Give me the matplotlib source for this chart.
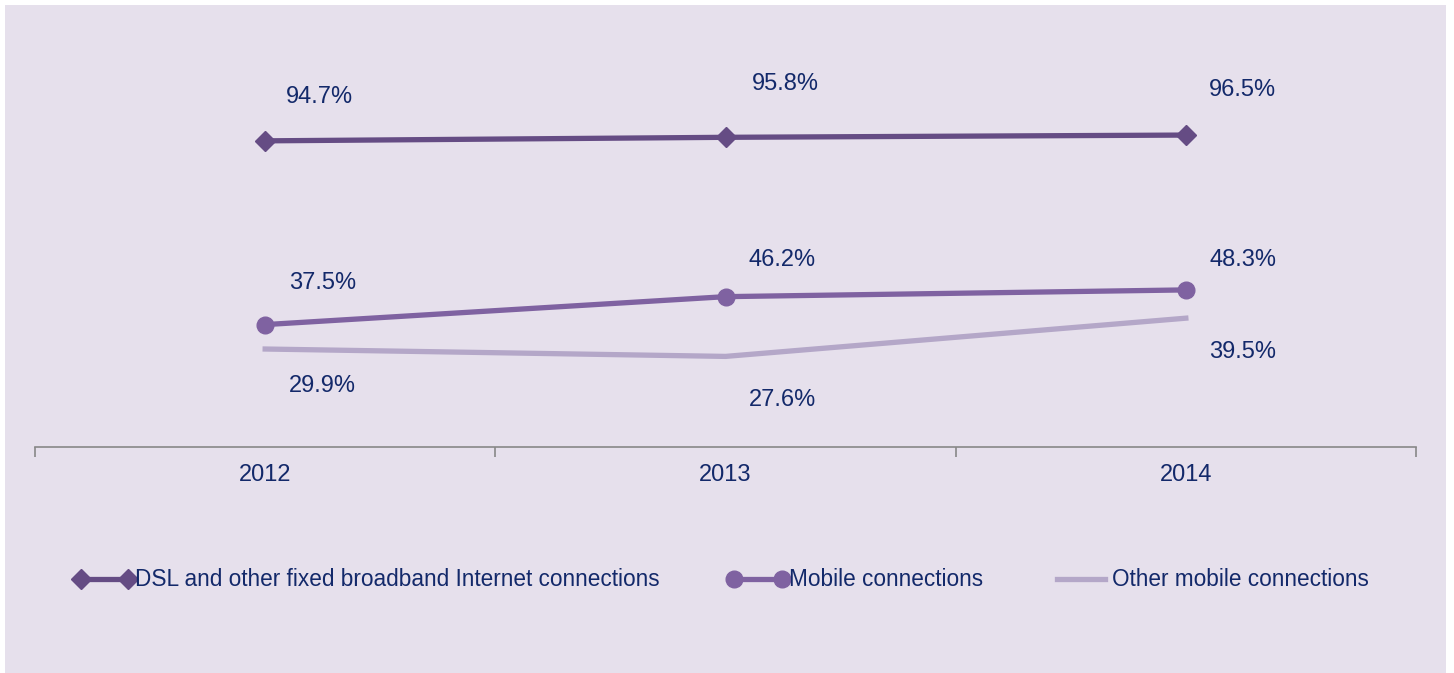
import matplotlib
matplotlib.use("Agg")
import matplotlib.pyplot as plt
from matplotlib.patches import Rectangle

plt.rcParams['font.family'] = ['Liberation Sans', 'DejaVu Sans']

years = ["2012", "2013", "2014"]
dsl = [94.7, 95.8, 96.5]
mobile = [37.5, 46.2, 48.3]
other = [29.9, 27.6, 39.5]

names = ["DSL and other fixed broadband Internet connections",
         "Mobile connections",
         "Other mobile connections"]

bg = "#E6E0EC"
text_col = "#13296A"
c_dsl = "#654C84"
c_mob = "#7F62A1"
c_oth = "#B4A7C8"

fig = plt.figure(figsize=(14.54, 6.73), dpi=100)
fig.patch.set_facecolor("white")
fig.patches.append(Rectangle((5 / 1454, -0.01), 1441 / 1454, 668 / 673 + 0.01,
                             transform=fig.transFigure, facecolor=bg,
                             edgecolor="none", zorder=-10))

ax = fig.add_axes([35 / 1454, 226 / 673, 1381 / 1454, 390 / 673])
ax.set_facecolor("none")
x = list(range(len(years)))

ax.plot(x, dsl, color=c_dsl, lw=3.8, marker="D", ms=10, label=names[0])
ax.plot(x, mobile, color=c_mob, lw=3.8, marker="o", ms=12, label=names[1])
ax.plot(x, other, color=c_oth, lw=3.8, label=names[2])

ax.set_xlim(-0.5, 2.5)
ax.set_ylim(-0.6, 120.8)

# value labels, offsets in pixels from the point
offs_dsl = [(54, 44), (60, 53), (57, 45)]
offs_mob = [(57, 42), (57, 37), (57, 30)]
offs_oth = [(57, -37), (57, -44), (57, -34)]
for series, offs in [(dsl, offs_dsl), (mobile, offs_mob), (other, offs_oth)]:
    for i, v in enumerate(series):
        ax.annotate(f"{v}%", (i, v), xytext=offs[i], textcoords="offset pixels",
                    ha="center", va="center", fontsize=17, color=text_col)

for s in ["top", "right", "left"]:
    ax.spines[s].set_visible(False)
ax.spines["bottom"].set_color("#888888")
ax.spines["bottom"].set_linewidth(1.2)
ax.spines["bottom"].set_position(("data", -0.6))
ax.set_yticks([])
ax.set_xticks([-0.5, 0.5, 1.5, 2.5])
ax.set_xticklabels([])
ax.set_xticks(x, minor=True)
ax.set_xticklabels(years, minor=True, fontsize=17, color=text_col)
ax.tick_params(axis="x", which="major", direction="out", length=7, color="#888888", width=1.2)
ax.tick_params(axis="x", which="minor", length=0, pad=12)

fig.legend(loc="center", bbox_to_anchor=(0.496, 1 - 580 / 673), ncol=3, frameon=False,
           numpoints=2, handlelength=2.7, handletextpad=0.0, columnspacing=3.0,
           fontsize=16.3, labelcolor=text_col)

fig.savefig("out.png", dpi=100, facecolor=fig.get_facecolor())
